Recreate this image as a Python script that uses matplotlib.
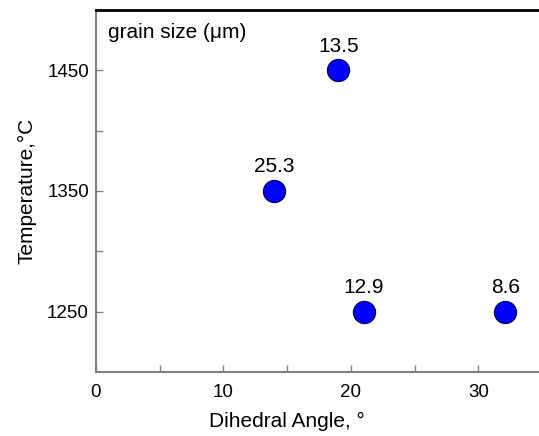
import matplotlib
matplotlib.use('Agg')
import matplotlib.pyplot as plt

plt.rcParams['font.family'] = ['Liberation Sans', 'DejaVu Sans']

# 数据
angle = [19.0, 14.0, 21.0, 32.1]
temperature = [1450, 1350, 1250, 1250]
grain_size = ['13.5', '25.3', '12.9', '8.6']

fig = plt.figure(figsize=(5.39, 4.36), dpi=100)
ax = fig.add_axes([0.178, 0.147, 0.828, 0.830])

ax.scatter(angle, temperature, s=250, color='#0000ff', edgecolor='#000066',
           linewidth=1.0, zorder=3)
for x, y, lab in zip(angle, temperature, grain_size):
    ax.annotate(lab, (x, y), xytext=(0, 17.5), textcoords='offset points',
                ha='center', va='center', fontsize=15)

ax.set_xlim(0, 35)
ax.set_ylim(1200, 1500)
ax.set_xticks([0, 10, 20, 30])
ax.set_xticks([5, 15, 25], minor=True)
ax.set_yticks([1250, 1350, 1450])
ax.set_yticks([1300, 1400], minor=True)
ax.tick_params(which='both', direction='in', colors='#808080', labelcolor='black',
               labelsize=13.5, width=1, top=False, right=False)
ax.tick_params(which='major', length=5)
ax.tick_params(which='minor', length=5)
ax.tick_params(axis='x', pad=9)
ax.tick_params(axis='y', pad=5)

for s in ['left', 'bottom']:
    ax.spines[s].set_color('#808080')
    ax.spines[s].set_linewidth(1.5)
ax.spines['top'].set_color('black')
ax.spines['top'].set_linewidth(2)
ax.spines['right'].set_visible(False)

ax.set_xlabel('Dihedral Angle, °', fontsize=15, labelpad=8)
ax.xaxis.set_label_coords(0.428, -0.11)
ax.set_ylabel('Temperature,°C', fontsize=15, labelpad=8)
ax.text(0.027, 0.965, 'grain size (μm)', transform=ax.transAxes,
        ha='left', va='top', fontsize=15)

fig.savefig('out.png', dpi=100)
